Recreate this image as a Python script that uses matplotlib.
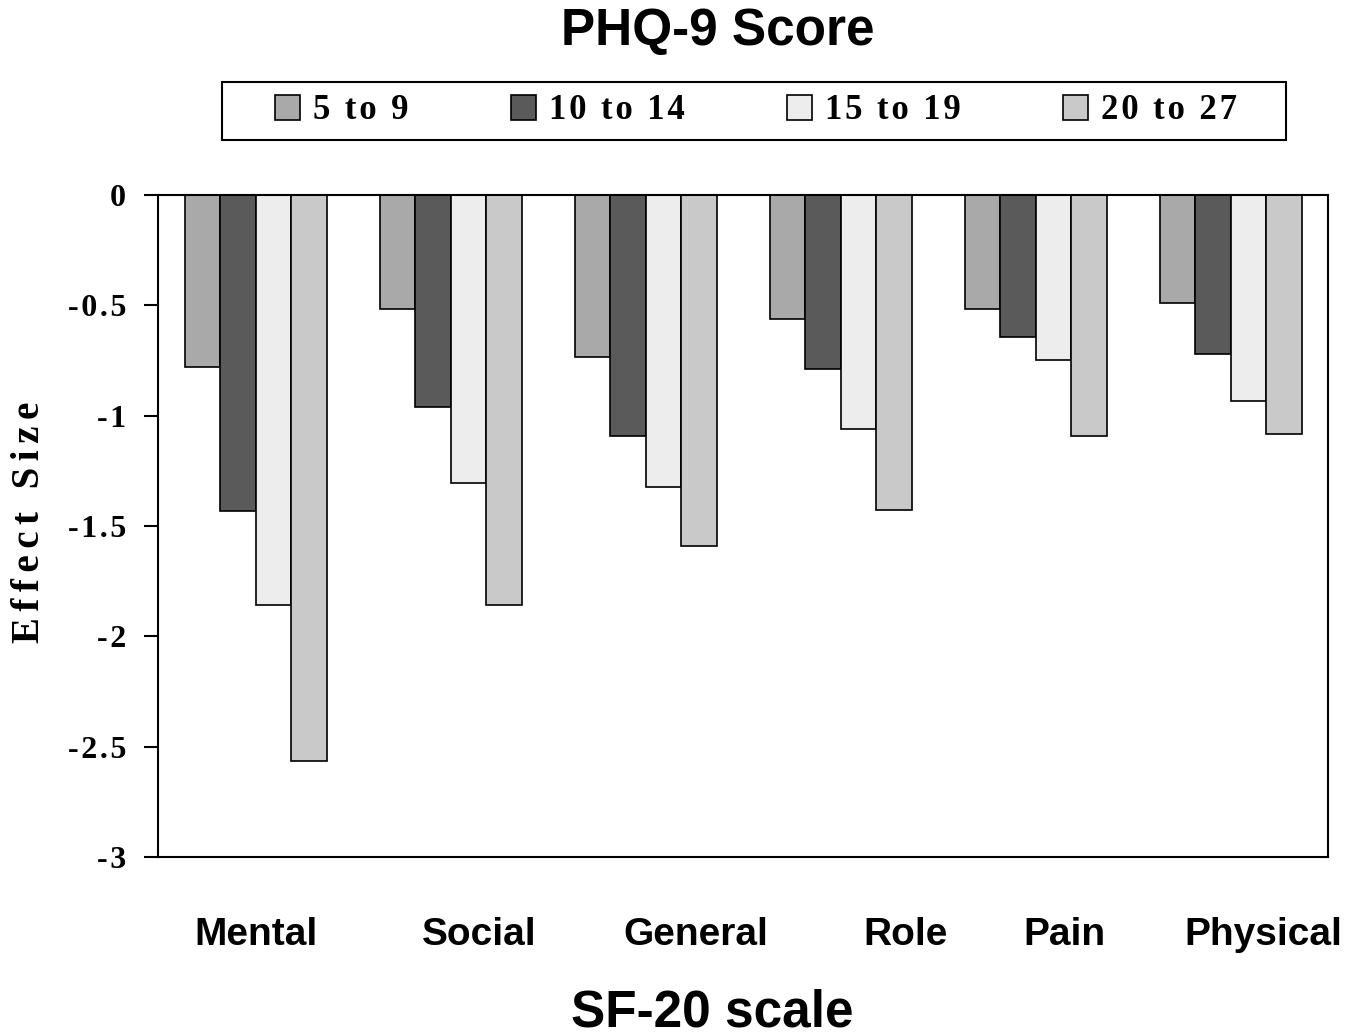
import numpy as np
import matplotlib
matplotlib.use('Agg')
import matplotlib.pyplot as plt
from matplotlib.patches import Rectangle

scales = ['Mental', 'Social', 'General', 'Role', 'Pain', 'Physical']
groups = ['5 to 9', '10 to 14', '15 to 19', '20 to 27']
score_5_9 = [-0.78, -0.517, -0.734, -0.562, -0.517, -0.489]
score_10_14 = [-1.43, -0.96, -1.09, -0.788, -0.643, -0.72]
score_15_19 = [-1.86, -1.305, -1.323, -1.06, -0.748, -0.933]
score_20_27 = [-2.565, -1.86, -1.59, -1.427, -1.092, -1.083]
yticks = [0, -0.5, -1, -1.5, -2, -2.5, -3]
ytick_labels = ['0', '-0.5', '-1', '-1.5', '-2', '-2.5', '-3']

series = [score_5_9, score_10_14, score_15_19, score_20_27]
colors = ['#a9a9a9', '#5a5a5a', '#ededed', '#c9c9c9']

serif = ['Liberation Serif', 'DejaVu Serif']
sans = 'Liberation Sans'

def spaced(s):
    # the original uses slightly letter-spaced Times text
    return '\u200a'.join(s)

fig = plt.figure(figsize=(13.6, 10.36), dpi=100)
ax = fig.add_axes([0.1162, 0.1728, 0.8603, 0.639])

x = np.arange(len(scales))
w = 0.182
handles = []
for i, (vals, c) in enumerate(zip(series, colors)):
    b = ax.bar(x + (i - 1.5) * w, vals, w, color=c, edgecolor='black', linewidth=1.2)
    handles.append(b)

ax.set_xlim(-0.5, 5.5)
ax.set_ylim(-3, 0)
ax.set_yticks(yticks)
ax.set_yticklabels([spaced(t) for t in ytick_labels], fontfamily=serif, fontweight='bold', fontsize=23)
ax.tick_params(axis='y', direction='out', length=10, width=1.5, pad=13)

# category labels sit a bit off the group centres in the original
label_pos = [0.0, 1.146, 2.259, 3.336, 4.146, 5.17]
ax.set_xticks(label_pos)
ax.set_xticklabels(scales, fontfamily=sans, fontweight='bold', fontsize=28)
ax.tick_params(axis='x', length=0, pad=43)

for s in ax.spines.values():
    s.set_linewidth(1.5)
    s.set_color('black')

fig.text(0.0215, 0.496, '\u200a\u200a'.join('Effect Size'), rotation=90, ha='center', va='center',
         fontfamily=serif, fontweight='bold', fontsize=28)
fig.text(0.5235, 0.009, 'SF-20 scale', ha='center', va='baseline',
         fontfamily=sans, fontweight='bold', fontsize=37)
fig.text(0.528, 0.970, 'PHQ-9 Score', ha='center', va='center',
         fontfamily=sans, fontweight='bold', fontsize=37)

leg = fig.legend(handles, [spaced(g) for g in groups], loc='center left',
                 bbox_to_anchor=(0.2022, 0.8929), ncol=4, frameon=False,
                 handlelength=0.72, handleheight=0.72, handletextpad=0.37,
                 columnspacing=2.95, borderpad=0, borderaxespad=0,
                 prop={'family': serif, 'weight': 'bold', 'size': 25})
fig.patches.append(Rectangle((0.163, 0.865), 0.7826, 0.056, transform=fig.transFigure,
                             fill=False, edgecolor='black', linewidth=1.5))

plt.savefig('out.png', dpi=100)
